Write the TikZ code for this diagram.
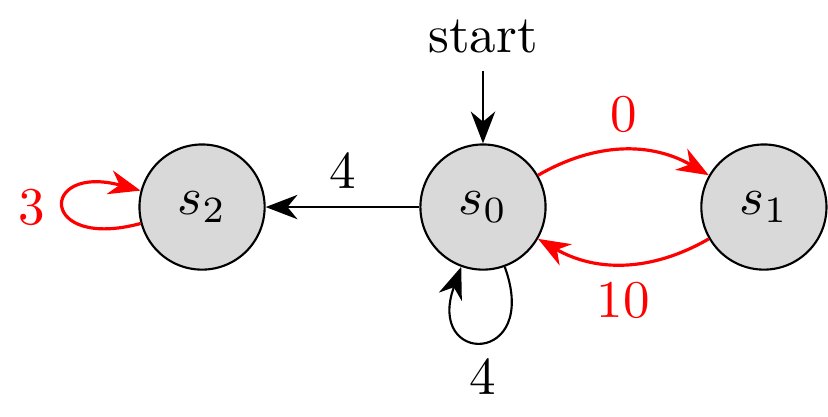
\documentclass[tikz,border=0pt]{standalone}
\usepackage{amsmath, amssymb}
\usepackage{xcolor}
\usepackage{tikz}
\usetikzlibrary{arrows.meta,shapes}

\begin{document}
\begin{tikzpicture}[>={Stealth[length=6pt,width=4.6pt,inset=1.9pt]},
	state/.style={circle,draw,thin,fill=black!15,minimum size=0.83cm,inner sep=0pt},
	redarc/.style={red,semithick}]
	\useasboundingbox (-3.203,-1.386) rectangle (2.288,1.373);
	\node[state] (s0) at (0,0) {$s_0$};
	\node[state] (s1) at (1.863,0) {$s_1$};
	\node[state] (s2) at (-1.863,0) {$s_2$};
	\node (start) at (0,1.134) {start};
	%
	\path[->,thin]
	(start) edge (s0)
	(s0) edge node[above]{$4$} (s2)
		edge[loop,out=-70,in=-110,min distance=7mm] node[below]{$4$} (s0);
	\path[->,redarc]
	(s0) edge[bend left=30] node[above]{$0$} (s1)
	(s1) edge[bend left=30] node[below]{$10$} (s0)
	(s2) edge[loop,out=195,in=165,min distance=7mm] node[left]{$3$} (s2);
\end{tikzpicture}
\end{document}
